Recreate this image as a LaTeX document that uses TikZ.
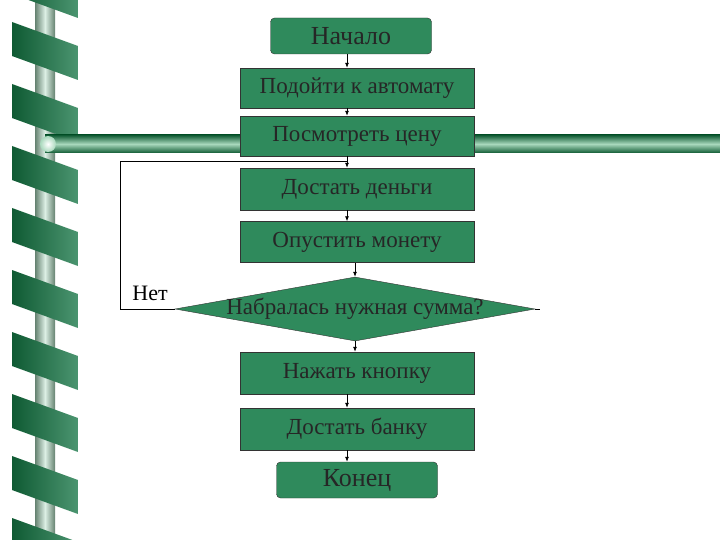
\documentclass[tikz,border=0pt]{standalone}
\usepackage{fontspec}
\setmainfont{Liberation Serif}
\usetikzlibrary{shapes.geometric,arrows.meta}
\definecolor{fl}{HTML}{2F8A5C}
\definecolor{rib}{HTML}{1E7A4C}
\definecolor{ribd}{HTML}{0F5A33}
\definecolor{pole}{HTML}{A8D8BC}
\begin{document}
\begin{tikzpicture}[x=1pt,y=-1pt,
 box/.style={draw=black!80,fill=fl,text=black!85,minimum width=234pt,minimum height=40pt,font=\fontsize{23}{25}\selectfont,inner sep=0pt},
 term/.style={box,rounded corners=4pt,minimum width=161pt,minimum height=36pt,font=\fontsize{26}{28}\selectfont},
 arr/.style={-{Latex[length=5pt,width=4pt]},black,line width=0.8pt}]
\useasboundingbox (0,0) rectangle (720,540);
% decoration
\shade[left color=pole!60!black,right color=pole!60!black,middle color=pole!40] (35,0) rectangle (55,540);
\foreach \y in {-40,22,...,540}{
  \shade[left color=ribd,right color=rib!80!white] (12,\y) -- (78,\y+24) -- (78,\y+58) -- (12,\y+34) -- cycle;
}
\shade[top color=ribd,bottom color=ribd,middle color=pole] (45,135) rectangle (720,153);
\shade[inner color=white,outer color=pole] (48,144) circle (8);
% flowchart
\node[term] (a) at (351,36) {Начало};
\node[box] (b) at (357,88) {Подойти к автомату};
\node[box] (c) at (357,136) {Посмотреть цену};
\node[box,minimum height=42pt] (d) at (357,189) {Достать деньги};
\node[box,minimum height=41pt] (e) at (357,242) {Опустить монету};
\node[diamond,draw=black!80,fill=fl,text=black!85,aspect=5.6,minimum width=360pt,minimum height=64pt,inner sep=0pt,font=\fontsize{23}{25}\selectfont] (f) at (355,309) {\makebox[0pt]{Набралась нужная сумма?}};
\node[box,minimum height=42pt] (g) at (357,373) {Нажать кнопку};
\node[box,minimum height=42pt] (h) at (357,429) {Достать банку};
\node[term] (i) at (357,480) {Конец};
\node[font=\fontsize{22}{24}\selectfont] (n) at (150,293) {Нет};
\coordinate (r) at (540,309);
\coordinate (l1) at (120,309);
\coordinate (l2) at (120,161);
\coordinate (l3) at (347,161);
\draw[arr] (347,54) -- (b.north -| 347,0);
\draw[arr] (347,108) -- (c.north -| 347,0);
\draw[arr] (347,156) -- (d.north -| 347,0);
\draw[arr] (347,210) -- (e.north -| 347,0);
\draw[arr] (355,263) -- (f.north);
\draw[arr] (f.south) -- (g.north -| 355,0);
\draw[arr] (347,394) -- (h.north -| 347,0);
\draw[arr] (347,450) -- (i.north -| 347,0);
\draw[line width=0.8pt] (f.east) -- (r);
\draw[line width=0.8pt] (f.west) -- (l1) -- (l2) -- (l3);
\end{tikzpicture}
\end{document}
